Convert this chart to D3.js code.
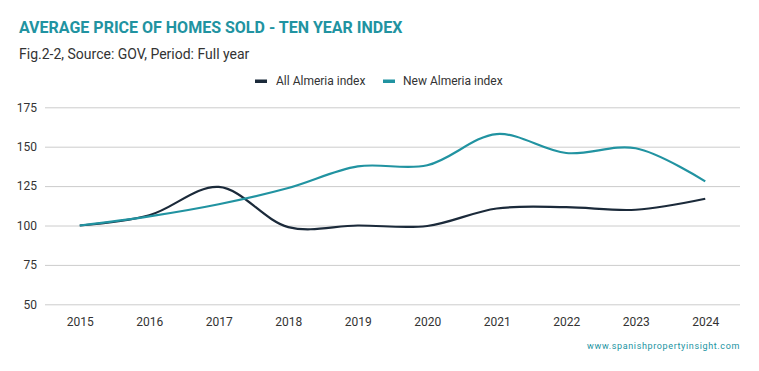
<!DOCTYPE html>
<html><head><meta charset="utf-8">
<script src="https://cdn.jsdelivr.net/npm/d3@7"></script>
<style>body{margin:0;background:#fff;font-family:Roboto,sans-serif}</style>
</head><body><svg id="c" width="759" height="371"></svg>
<script>
const years = ["2015","2016","2017","2018","2019","2020","2021","2022","2023","2024"];
const allAlmeria = [100,106.5,124.5,99,100,99.7,110.8,111.6,110,117];
const newAlmeria = [100,105.8,113.5,123.8,137.5,138.2,158,146,149,128];
const yTicks = [50,75,100,125,150,175];
const seriesNames = ["All Almeria index","New Almeria index"];
const colors = ["#1b2a3a","#2193a1"];

const svg = d3.select("#c");
const x = d3.scalePoint().domain(years).range([45,740]).padding(0.5);
const y = d3.scaleLinear().domain([50,175]).range([304.3,107.3]);

svg.append("text").attr("x",19).attr("y",33).attr("fill","#2193a1")
  .attr("font-size",16).attr("font-weight",700).text("AVERAGE PRICE OF HOMES SOLD - TEN YEAR INDEX");
svg.append("text").attr("x",19).attr("y",59).attr("fill","#333")
  .attr("font-size",14).text("Fig.2-2, Source: GOV, Period: Full year");

// grid
const ga = svg.append("g").attr("transform","translate(45,0)")
  .call(d3.axisLeft(y).tickValues(yTicks).tickSize(-695).tickPadding(8));
ga.select(".domain").remove();
ga.selectAll(".tick line").attr("stroke","#cccccc");
ga.selectAll(".tick text").attr("font-family","Roboto,sans-serif").attr("font-size",12).attr("fill","#333");

const xa = svg.append("g").attr("transform","translate(0,304.3)")
  .call(d3.axisBottom(x).tickSize(0).tickPadding(13));
xa.select(".domain").remove();
xa.selectAll(".tick text").attr("font-family","Roboto,sans-serif").attr("font-size",12).attr("fill","#333");

const line = d3.line().x((d,i)=>x(years[i])).y(d=>y(d)).curve(d3.curveCatmullRom.alpha(0.5));
[allAlmeria,newAlmeria].forEach((s,k)=>{
  svg.append("path").datum(s).attr("d",line).attr("fill","none")
    .attr("stroke",colors[k]).attr("stroke-width",2.2);
});

// legend
const lg = [{x:255,tx:276},{x:383,tx:403}];
seriesNames.forEach((n,k)=>{
  svg.append("rect").attr("x",lg[k].x).attr("y",79.5).attr("width",12).attr("height",3.5).attr("fill",colors[k]);
  svg.append("text").attr("x",lg[k].tx).attr("y",85).attr("font-size",12).attr("fill","#333").text(n);
});

svg.append("text").attr("x",740).attr("y",349).attr("text-anchor","end").attr("font-size",9)
  .attr("fill","#2193a1").attr("letter-spacing",0.63).text("www.spanishpropertyinsight.com");
</script></body></html>
